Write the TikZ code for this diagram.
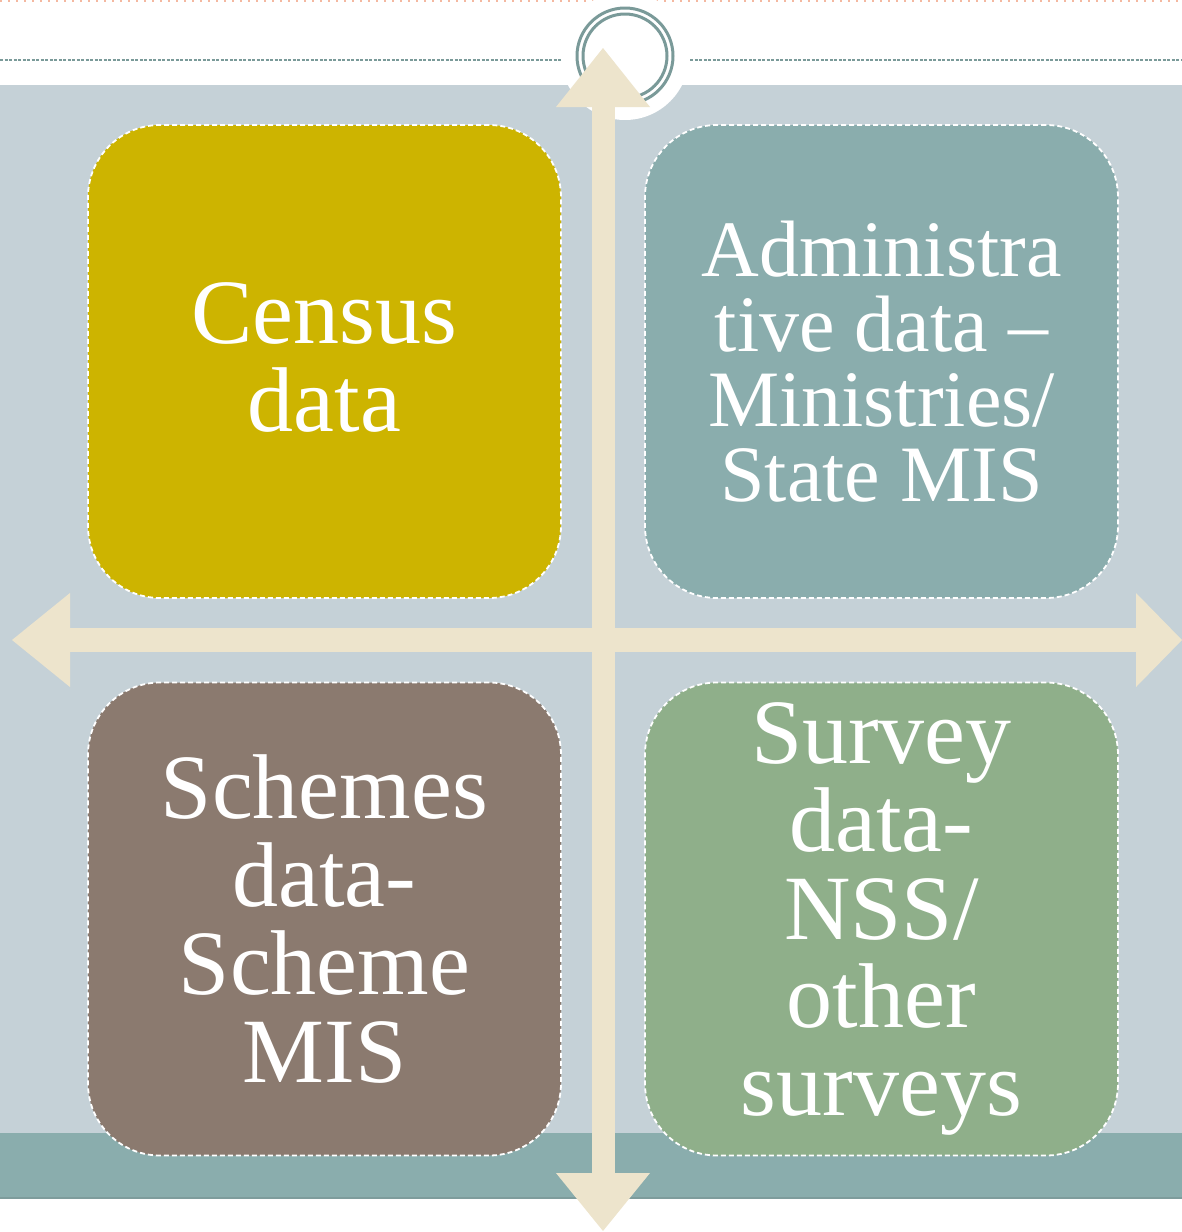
\documentclass[tikz,border=0pt]{standalone}
\usepackage{fontspec}
\setmainfont{Liberation Serif}
\definecolor{bgc}{HTML}{C5D1D7}
\definecolor{bandc}{HTML}{8AADAD}
\definecolor{bandline}{HTML}{7E9C9C}
\definecolor{ringc}{HTML}{7A9A99}
\definecolor{creamc}{HTML}{EDE4CC}
\definecolor{censusc}{HTML}{CDB400}
\definecolor{adminc}{HTML}{8AADAD}
\definecolor{schemec}{HTML}{8B7A6F}
\definecolor{surveyc}{HTML}{8FAF8A}
\definecolor{salmonc}{HTML}{F4B8A0}
\begin{document}
\begin{tikzpicture}[x=1pt,y=-1pt,
  quad/.style={draw=white, line width=1.8pt, dash pattern=on 5pt off 3pt,
    rounded corners=72pt, minimum width=473pt, minimum height=473pt,
    text=white, align=center, inner sep=0pt},
  bigtext/.style={font=\fontsize{92}{88}\selectfont},
  smalltext/.style={font=\fontsize{80}{75}\selectfont},
  arrowfill/.style={fill=creamc, draw=none}]
\useasboundingbox (0,0) rectangle (1182,1232);
% top decorations
\draw[salmonc, line width=2pt, dash pattern=on 2pt off 6pt] (0,1) -- (1182,1);
\draw[ringc, line width=2pt, dash pattern=on 3pt off 1.5pt] (0,60) -- (561,60);
\draw[ringc, line width=2pt, dash pattern=on 3pt off 1.5pt] (690,60) -- (1182,60);
% background
\fill[bgc] (0,85) rectangle (1182,1133);
\fill[bandc] (0,1133) rectangle (1182,1198);
\draw[bandline, line width=1.5pt] (0,1198) -- (1182,1198);
% white halo and rings
\fill[white] (625,56) circle[radius=64];
\draw[ringc, line width=3pt] (625,56) circle[radius=48];
\draw[ringc, line width=3pt] (625,56) circle[radius=42];
% boxes
\node[quad, fill=censusc, bigtext] (census) at (324.5,361.5) {};
\node[bigtext, text=white, align=center, inner sep=0pt] (censustext) at (324.5,357) {Census\\data};
\node[quad, fill=adminc, smalltext] (admin) at (881.5,361.5) {Administra\\tive data –\\Ministries/\\State MIS};
\node[quad, fill=schemec, bigtext] (schemes) at (324.5,919) {Schemes\\data-\\Scheme\\MIS};
\node[quad, fill=surveyc, bigtext] (survey) at (881.5,919) {Survey\\data-\\NSS/\\other\\surveys};
% arrows
\coordinate (up) at (603,48);
\coordinate (down) at (603,1231);
\coordinate (left) at (12,640);
\coordinate (right) at (1182,640);
\fill[arrowfill] (592,107) rectangle (615,1173);
\fill[arrowfill] (70,628) rectangle (1136,652);
\fill[arrowfill] (up) -- (650,107) -- (556,107) -- cycle;
\fill[arrowfill] (down) -- (650,1173) -- (556,1173) -- cycle;
\fill[arrowfill] (left) -- (70,593) -- (70,687) -- cycle;
\fill[arrowfill] (right) -- (1136,593) -- (1136,687) -- cycle;
\end{tikzpicture}
\end{document}
